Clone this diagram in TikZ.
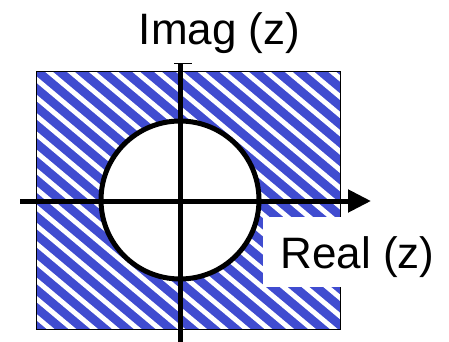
\documentclass[tikz,border=0pt]{standalone}
\usepackage{fontspec}
\setmainfont{Liberation Sans}
\usetikzlibrary{arrows.meta}
\definecolor{stripeblue}{RGB}{64,76,208}
\tikzset{
  axis/.style={line width=5pt, black},
  lbl/.style={font=\fontsize{44}{50}\selectfont, inner sep=0pt, anchor=base},
}
\begin{document}
\begin{tikzpicture}[x=1pt,y=-1pt]
\useasboundingbox (0,0) rectangle (449,342);
% hatched region
\fill[stripeblue] (36,72) rectangle (340,329);
\begin{scope}
  \clip (36,72) rectangle (340,329);
  \foreach \k in {-30,...,30} {
    \draw[white, line width=5pt, rotate around={-40:(180,200)}]
      (-200,200+\k*14) -- (560,200+\k*14);
  }
\end{scope}
\draw[black, line width=1pt] (36,72) rectangle (340,329);
% unit circle
\coordinate (o) at (180,200);
\draw[line width=5pt, fill=white] (o) circle[radius=79];
% white label box
\fill[white] (263,217) rectangle (440,287);
% axes
\coordinate (xl) at (20,201);
\coordinate (xr) at (371,201);
\coordinate (yt) at (180,64);
\coordinate (yb) at (180,342);
\coordinate (tl) at (174,64);
\coordinate (tr) at (192,64);
\draw[axis, -{Triangle[length=23pt,width=22pt]}] (xl) -- (xr);
\draw[axis] (yt) -- (yb);
\draw[line width=1pt] (tl) -- (tr);
% labels
\node[lbl] (imag) at (219.5,45) {Imag (z)};
\node[lbl] (real) at (357.5,268) {Real (z)};
\end{tikzpicture}
\end{document}
